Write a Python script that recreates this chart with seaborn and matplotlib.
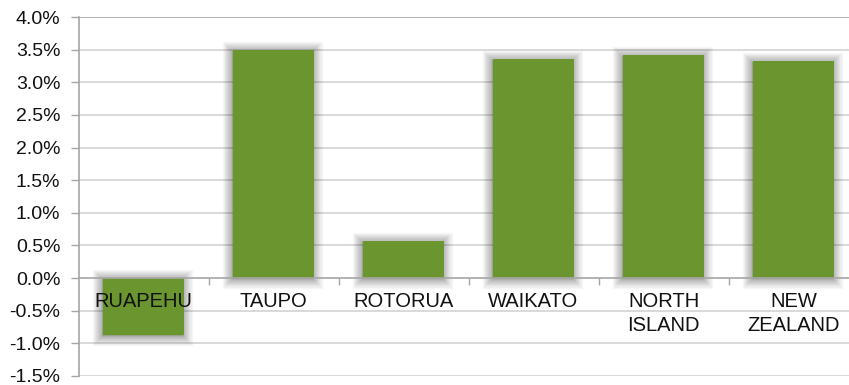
import matplotlib
matplotlib.use("Agg")
import matplotlib.pyplot as plt
import matplotlib.patheffects as pe
from matplotlib.ticker import FuncFormatter, FixedLocator
import seaborn as sns
import pandas as pd

# Annual growth by area
areas = ["RUAPEHU", "TAUPO", "ROTORUA", "WAIKATO", "NORTH\nISLAND", "NEW\nZEALAND"]
growth = [-0.87, 3.50, 0.57, 3.36, 3.42, 3.33]
y_ticks = [-1.5, -1.0, -0.5, 0.0, 0.5, 1.0, 1.5, 2.0, 2.5, 3.0, 3.5, 4.0]

BAR_GREEN = "#6b962f"
AXIS_GREY = "#a6a6a6"
GRID_GREY = "#d3d3d3"

sns.set_style("white")
plt.rcParams["font.family"] = ["Liberation Sans", "DejaVu Sans"]

df = pd.DataFrame({"area": areas, "growth": growth})

fig = plt.figure(figsize=(8.49, 3.85), dpi=100)
ax = fig.add_axes([78.5 / 849, 9 / 385, 780 / 849, 359 / 385])
ax.set_axisbelow(False)

sns.barplot(data=df, x="area", y="growth", color=BAR_GREEN, saturation=1,
            width=0.62, ax=ax, zorder=2)

# soft drop shadow around each bar: stacked faint strokes fade outward
glow = [pe.Stroke(linewidth=w, foreground="black", alpha=0.034, offset=(-0.8, -0.8))
        for w in (14, 12, 10, 8.5, 7, 5.5, 4, 2.5, 1.5)]
for bar in ax.patches:
    bar.set_linewidth(0)
    bar.set_path_effects(glow + [pe.Normal()])

ax.set_ylim(y_ticks[0], y_ticks[-1])
ax.set_xlim(-0.5, len(areas) - 0.5)

# horizontal guides behind the bars
for v in y_ticks:
    if v == 0.0:
        continue
    col = AXIS_GREY if v == y_ticks[-1] else GRID_GREY
    ax.axhline(v, color=col, lw=1.2, zorder=0)

ax.set_yticks(y_ticks)
ax.yaxis.set_major_formatter(FuncFormatter(lambda v, _: f"{v:.1f}%"))
ax.tick_params(axis="y", which="major", direction="out", length=6, width=1,
               color=AXIS_GREY, labelsize=14, pad=7, labelcolor="#111111", left=True)

# category axis sits on the zero line; ticks between categories, labels under each bar
ax.spines["bottom"].set_position(("data", 0))
ax.spines["bottom"].set_color(AXIS_GREY)
ax.spines["bottom"].set_linewidth(1.2)
ax.spines["left"].set_color(AXIS_GREY)
ax.spines["left"].set_linewidth(1.2)
ax.spines["top"].set_visible(False)
ax.spines["right"].set_visible(False)

centers = list(range(len(areas)))
ax.xaxis.set_major_locator(FixedLocator([c + 0.5 for c in centers[:-1]]))
ax.xaxis.set_minor_locator(FixedLocator(centers))
ax.set_xticklabels([], minor=False)
ax.set_xticklabels(areas, minor=True, fontsize=14.5, color="#111111",
                   linespacing=1.35)
ax.tick_params(axis="x", which="major", direction="out", length=5, width=1,
               color=AXIS_GREY, bottom=True)
ax.tick_params(axis="x", which="minor", length=0, pad=10)

ax.set_xlabel("")
ax.set_ylabel("")

fig.savefig("out.png", dpi=100)
